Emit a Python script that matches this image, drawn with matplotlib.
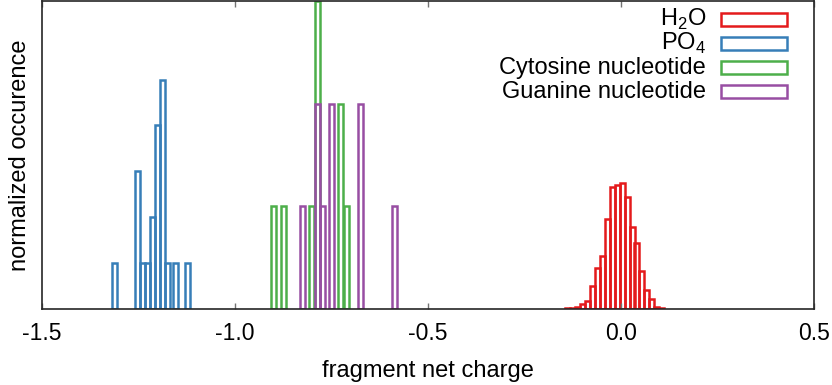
import matplotlib.pyplot as plt
from matplotlib.patches import Rectangle

plt.rcParams['font.family'] = ['Liberation Sans', 'DejaVu Sans']
plt.rcParams['mathtext.fontset'] = 'custom'
plt.rcParams['mathtext.rm'] = 'Liberation Sans'

# histogram bins (centres) and normalized heights
binWidth = 0.0129

h2oX = [-0.139, -0.126, -0.113, -0.100, -0.087, -0.074, -0.061, -0.049, -0.036, -0.023,
        -0.010, 0.003, 0.016, 0.029, 0.041, 0.054, 0.067, 0.080, 0.093, 0.106]
h2oY = [0.07, 0.10, 0.21, 0.42, 0.71, 1.98, 3.45, 4.50, 7.57, 10.26,
        10.43, 10.60, 9.42, 6.90, 5.55, 3.24, 1.64, 0.84, 0.21, 0.08]

po4X = [-1.313, -1.253, -1.240, -1.227, -1.214, -1.201, -1.188, -1.175, -1.153, -1.124]
po4Y = [3.87, 11.61, 3.87, 3.87, 7.74, 15.48, 19.35, 3.87, 3.87, 3.87]

cytX = [-0.901, -0.875, -0.801, -0.787, -0.726, -0.712]
cytY = [8.66, 8.66, 8.66, 25.98, 17.32, 8.66]

guaX = [-0.824, -0.787, -0.773, -0.751, -0.675, -0.588]
guaY = [8.66, 17.32, 8.66, 17.32, 17.32, 8.66]

labels = ['H$_\\mathregular{2}$O', 'PO$_\\mathregular{4}$', 'Cytosine nucleotide', 'Guanine nucleotide']
colors = ['#e41a1c', '#377eb8', '#4daf4a', '#984ea3']

fig = plt.figure(figsize=(8.32, 3.85), dpi=100)
ax = fig.add_axes([42/832, 1 - 309/385, 772/832, 308/385])

series = [(h2oX, h2oY), (po4X, po4Y), (cytX, cytY), (guaX, guaY)]
for (xs, ys), c in zip(series, colors):
    ax.bar(xs, ys, width=binWidth, fill=False, edgecolor=c, linewidth=1.8)

ax.set_xlim(-1.5, 0.5)
ax.set_ylim(0, max(cytY))
ax.set_xticks([-1.5, -1.0, -0.5, 0.0, 0.5])
ax.set_xticklabels(['-1.5', '-1.0', '-0.5', '0.0', '0.5'])
ax.set_yticks([])
ax.tick_params(axis='x', direction='in', top=True, length=4, width=1,
               color='0.45', labelsize=16.5, pad=9)
for s in ax.spines.values():
    s.set_linewidth(1.2)
    s.set_color('0.15')

ax.set_xlabel('fragment net charge', fontsize=17, labelpad=11)
ax.set_ylabel('normalized occurence', fontsize=17, labelpad=8)

# legend, drawn by hand (text right aligned, outlined box on the right)
def axx(px):
    return (px - 42) / 772

def axy(py):
    return (309 - py) / 308

for i, (lab, c) in enumerate(zip(labels, colors)):
    base = 26 + 24 * i
    ax.text(axx(706), axy(base), lab, transform=ax.transAxes, ha='right',
            va='baseline', fontsize=17)
    ax.add_patch(Rectangle((axx(721), axy(base)), axx(787) - axx(721), 12.5/308,
                           transform=ax.transAxes, fill=False, edgecolor=c,
                           linewidth=1.8))

plt.savefig('out.png', dpi=100)
